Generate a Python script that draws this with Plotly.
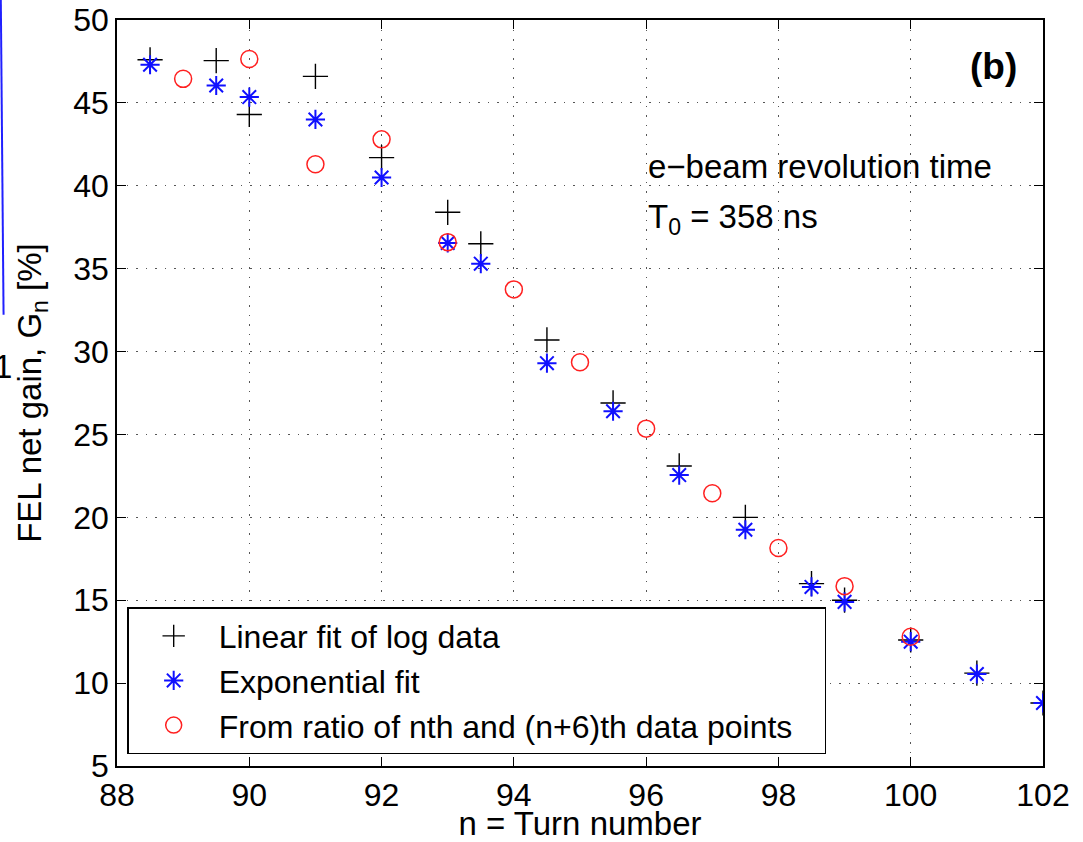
import plotly.graph_objects as go

# Linear fit of log data (black +)
lin_x = [88.5, 89.5, 90, 91, 92, 93, 93.5, 94.5, 95.5, 96.5, 97.5, 98.5, 99, 100, 101, 102]
lin_y = [47.6, 47.55, 44.3, 46.6, 41.7, 38.4, 36.5, 30.7, 26.9, 23.1, 20.0, 16.0, 15.0, 12.6, 10.6, 8.8]

# Exponential fit (blue *)
exp_x = [88.5, 89.5, 90, 91, 92, 93, 93.5, 94.5, 95.5, 96.5, 97.5, 98.5, 99, 100, 101, 102]
exp_y = [47.3, 46.05, 45.35, 44.0, 40.5, 36.55, 35.3, 29.3, 26.4, 22.55, 19.25, 15.8, 14.9, 12.5, 10.55, 8.8]

# From ratio of nth and (n+6)th data points (red o)
rat_x = [89, 90, 91, 92, 93, 94, 95, 96, 97, 98, 99, 100]
rat_y = [46.45, 47.65, 41.3, 42.8, 36.6, 33.75, 29.35, 25.35, 21.45, 18.15, 15.85, 12.8]

x_ticks = [88, 90, 92, 94, 96, 98, 100, 102]
y_ticks = [5, 10, 15, 20, 25, 30, 35, 40, 45, 50]

FONT = "Liberation Sans, Arial, Helvetica, sans-serif"
PAD = "\u00a0\u00a0\u00a0"

fig = go.Figure()
fig.add_trace(go.Scatter(
    x=lin_x, y=lin_y, mode="markers", name="Linear fit of log data",
    marker=dict(symbol="cross-thin-open", size=18, color="black",
                line=dict(color="black", width=1.4)),
))
fig.add_trace(go.Scatter(
    x=exp_x, y=exp_y, mode="markers", name="Exponential fit",
    marker=dict(symbol="asterisk-open", size=16, color="#1010ff",
                line=dict(color="#1010ff", width=2)),
))
fig.add_trace(go.Scatter(
    x=rat_x, y=rat_y, mode="markers", name="From ratio of nth and (n+6)th data points" + PAD,
    marker=dict(symbol="circle-open", size=17, color="#ff2020",
                line=dict(color="#ff2020", width=1.5)),
))

axis_common = dict(
    showline=True, linecolor="black", linewidth=1.5, mirror="ticks",
    ticks="inside", ticklen=9, tickwidth=1.2, tickcolor="black",
    showgrid=True, gridcolor="#555555", gridwidth=1, griddash="1.5px,8px",
    zeroline=False, automargin=False,
    tickfont=dict(family=FONT, size=32, color="black"),
)

fig.update_xaxes(
    range=[88, 102], tickvals=x_ticks, ticktext=[str(v) for v in x_ticks],
    title=dict(text="n = Turn number", font=dict(family=FONT, size=33, color="black"), standoff=4),
    **axis_common,
)
fig.update_yaxes(
    range=[5, 50], tickvals=y_ticks, ticktext=[str(v) for v in y_ticks],
    title=dict(text="FEL net gain, G<sub>n</sub> [%]", font=dict(family=FONT, size=33, color="black"), standoff=22),
    **axis_common,
)

fig.add_annotation(x=96.0, y=41.16, xref="x", yref="y", text="e\u2212beam revolution time",
                   showarrow=False, xanchor="left", yanchor="middle",
                   font=dict(family=FONT, size=33, color="black"))
fig.add_annotation(x=96.0, y=38.0, xref="x", yref="y", text="T<sub>0</sub> = 358 ns",
                   showarrow=False, xanchor="left", yanchor="middle",
                   font=dict(family=FONT, size=33, color="black"))
fig.add_annotation(x=101.64, y=47.17, xref="x", yref="y", text="<b>(b)</b>",
                   showarrow=False, xanchor="right", yanchor="middle",
                   font=dict(family=FONT, size=37, color="black"))

# remnant of neighbouring panel at the left edge
fig.add_shape(type="line", xref="paper", yref="paper",
              x0=-0.1255, y0=1.03, x1=-0.1225, y1=0.605,
              line=dict(color="#2020ff", width=2))
fig.add_annotation(x=-0.1115, y=0.535, xref="paper", yref="paper", text="1",
                   showarrow=False, xanchor="right", yanchor="middle",
                   font=dict(family=FONT, size=33, color="black"))

fig.update_layout(
    width=1083, height=842,
    margin=dict(l=117, r=40, t=20, b=76),
    paper_bgcolor="white", plot_bgcolor="white",
    showlegend=True,
    legend=dict(
        x=0.011, y=0.016, xanchor="left", yanchor="bottom",
        bgcolor="white", bordercolor="black", borderwidth=1.5,
        font=dict(family=FONT, size=32, color="black"),
        itemsizing="trace", itemwidth=80, tracegroupgap=0,
    ),
    font=dict(family=FONT, color="black"),
)

fig.write_html("out.html")
